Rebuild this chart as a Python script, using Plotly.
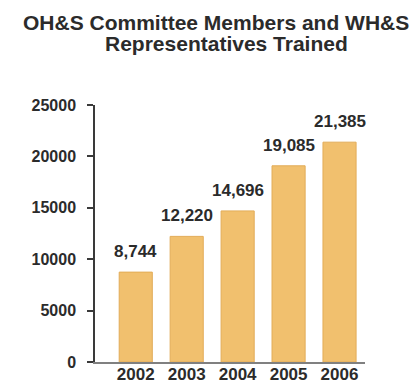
import plotly.graph_objects as go

# Training counts by year
years = ["2002", "2003", "2004", "2005", "2006"]
trained = [8744, 12220, 14696, 19085, 21385]
value_labels = ["8,744", "12,220", "14,696", "19,085", "21,385"]
y_ticks = [0, 5000, 10000, 15000, 20000, 25000]
title_lines = ["OH&S Committee Members and WH&S", "Representatives Trained"]

W, H = 413, 383
ML, MR, MT, MB = 95, 48, 105, 21
FONT = "Liberation Sans, Arial, sans-serif"
INK = "#2b2b2b"
BAR = "#F1C06E"

fig = go.Figure()
fig.add_trace(go.Bar(
    x=list(range(len(years))),
    y=trained,
    width=0.65,
    marker=dict(color=BAR, line=dict(color="#E2AC58", width=1)),
    hoverinfo="skip",
))

# value labels above each bar
for i, (v, lab) in enumerate(zip(trained, value_labels)):
    fig.add_annotation(
        x=i, y=v, xref="x", yref="y", text=f"<b>{lab}</b>",
        showarrow=False, yanchor="bottom", yshift=9,
        font=dict(family=FONT, size=17, color=INK),
    )

# two-line heading
plot_w = W - ML - MR
plot_h = H - MT - MB
for line, cx, cy in zip(title_lines, [215.5, 226.5], [22.5, 44]):
    fig.add_annotation(
        x=(cx - ML) / plot_w, y=(H - MB - cy) / plot_h,
        xref="paper", yref="paper", text=f"<b>{line}</b>",
        showarrow=False, xanchor="center", yanchor="middle",
        font=dict(family=FONT, size=21, color=INK),
    )

fig.update_layout(
    width=W, height=H,
    margin=dict(l=ML, r=MR, t=MT, b=MB, autoexpand=False),
    paper_bgcolor="white", plot_bgcolor="white",
    showlegend=False,
    font=dict(family=FONT, color=INK),
)
fig.update_xaxes(
    range=[-0.8, 4.5],
    tickmode="array",
    tickvals=list(range(len(years))),
    ticktext=[f"<b>{y}</b>" for y in years],
    tickfont=dict(family=FONT, size=17, color=INK),
    showline=True, linecolor="#808080", linewidth=1.5,
    ticks="", showgrid=False, zeroline=False,
    ticklabelstandoff=-4,
    fixedrange=True,
)
fig.update_yaxes(
    range=[0, 25000],
    tickmode="array",
    tickvals=y_ticks,
    ticktext=[f"<b>{t}</b>" for t in y_ticks],
    tickfont=dict(family=FONT, size=16, color=INK),
    showline=True, linecolor="#3a3a3a", linewidth=1.5,
    ticks="outside", ticklen=6, tickwidth=1.5, tickcolor="#3a3a3a",
    ticklabelstandoff=8,
    showgrid=False, zeroline=False,
    fixedrange=True,
)

fig.write_html("out.html", config={"displayModeBar": False})
